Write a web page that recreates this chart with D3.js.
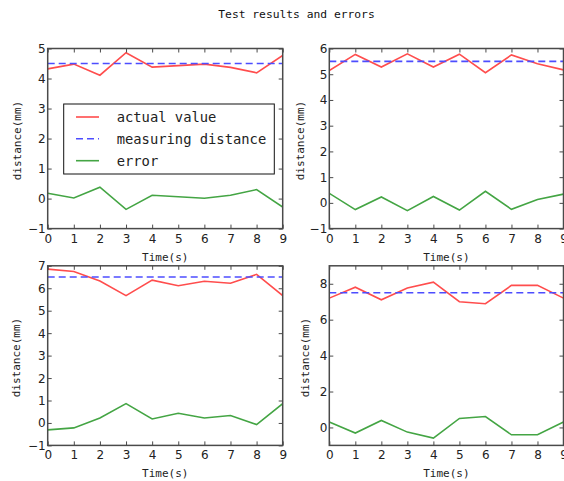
<!DOCTYPE html>
<html><head><meta charset="utf-8">
<script src="https://cdn.jsdelivr.net/npm/d3@7"></script>
<style>body{margin:0;background:#fff}svg{display:block}</style>
</head><body>
<svg id="c" width="564" height="481"></svg>
<script>
const times = [0,1,2,3,4,5,6,7,8,9];
const actual1 = [4.32,4.48,4.11,4.86,4.38,4.43,4.48,4.37,4.19,4.77];
const error1  = [0.18,0.02,0.38,-0.36,0.11,0.06,0.01,0.11,0.30,-0.28];
const actual2 = [5.14,5.77,5.28,5.79,5.28,5.78,5.06,5.75,5.41,5.17];
const error2  = [0.37,-0.26,0.23,-0.30,0.25,-0.28,0.45,-0.25,0.13,0.34];
const actual3 = [6.85,6.75,6.32,5.67,6.36,6.11,6.31,6.22,6.62,5.67];
const error3  = [-0.31,-0.22,0.22,0.86,0.18,0.43,0.22,0.33,-0.07,0.86];
const actual4 = [7.20,7.81,7.11,7.76,8.09,7.00,6.89,7.91,7.91,7.20];
const error4  = [0.30,-0.31,0.39,-0.26,-0.59,0.50,0.61,-0.41,-0.41,0.30];
const measured = [4.5, 5.5, 6.5, 7.5];
const yDomains = [[-1,5],[-1,6],[-1,7],[-1,9]];
const yTicks = [[-1,0,1,2,3,4,5],[-1,0,1,2,3,4,5,6],[-1,0,1,2,3,4,5,6,7],[0,2,4,6,8]];
const seriesNames = ["actual value","measuring distance","error"];
const title = "Test results and errors";
const xLabel = "Time(s)";
const yLabel = "distance(mm)";

const actuals = [actual1,actual2,actual3,actual4];
const errors = [error1,error2,error3,error4];

const layout = [
  {x0:47.7, x1:282.7, y0:48.5, y1:228.6, lab:30},
  {x0:329.3, x1:563.5, y0:48.5, y1:228.6, lab:29},
  {x0:47.7, x1:282.7, y0:265.8, y1:445.4, lab:31},
  {x0:329.3, x1:563.5, y0:265.8, y1:445.4, lab:24}
];
const RED="#ff4d4d", BLUE="#4d4dff", GREEN="#44a544", SPINE="#4a4a4a";
const svg = d3.select("#c");
const tickFont = "DejaVu Sans, sans-serif";
const monoFont = "DejaVu Sans Mono, monospace";

svg.append("text").attr("x",296.5).attr("y",14).attr("text-anchor","middle")
  .attr("dominant-baseline","central").attr("font-family",monoFont).attr("font-size",11.3)
  .attr("fill","#111").text(title);

layout.forEach((L,i)=>{
  const x = d3.scaleLinear().domain([0,9]).range([L.x0,L.x1]);
  const y = d3.scaleLinear().domain(yDomains[i]).range([L.y1,L.y0]);
  const g = svg.append("g");
  const cid = "clip"+i;
  svg.append("clipPath").attr("id",cid).append("rect")
    .attr("x",L.x0).attr("y",L.y0).attr("width",L.x1-L.x0).attr("height",L.y1-L.y0);
  const line = d3.line().x((d,j)=>x(times[j])).y(d=>y(d));
  const pg = g.append("g").attr("clip-path",`url(#${cid})`);
  pg.append("path").attr("d",line(actuals[i])).attr("fill","none").attr("stroke",RED).attr("stroke-width",1.6);
  pg.append("path").attr("d",line(times.map(()=>measured[i]))).attr("fill","none").attr("stroke",BLUE)
    .attr("stroke-width",1.6).attr("stroke-dasharray","7,4");
  pg.append("path").attr("d",line(errors[i])).attr("fill","none").attr("stroke",GREEN).attr("stroke-width",1.6);

  // axes with inward ticks
  const ax = (gen, tx, ty) => {
    const a = g.append("g").attr("transform",`translate(${tx},${ty})`).call(gen);
    a.select(".domain").remove();
    a.selectAll("line").attr("stroke",SPINE).attr("stroke-width",1);
    a.selectAll("text").attr("font-family",tickFont).attr("font-size",12).attr("fill","#222");
    return a;
  };
  const yfmt = d => d < 0 ? "\u2212"+Math.abs(d) : String(d);
  const b = ax(d3.axisBottom(x).tickValues(times).tickSizeInner(-4).tickSizeOuter(0).tickPadding(0).tickFormat(d=>d), 0, L.y1);
  b.selectAll("text").attr("dy",null).attr("y",10).attr("dominant-baseline","central");
  ax(d3.axisTop(x).tickValues(times).tickSizeInner(-4).tickSizeOuter(0).tickFormat(""), 0, L.y0);
  const l = ax(d3.axisLeft(y).tickValues(yTicks[i]).tickSizeInner(-4).tickSizeOuter(0).tickFormat(yfmt), L.x0, 0);
  l.selectAll("text").attr("x",-2).attr("dy",null).attr("dominant-baseline","central");
  ax(d3.axisRight(y).tickValues(yTicks[i]).tickSizeInner(-4).tickSizeOuter(0).tickFormat(""), L.x1, 0);

  g.append("rect").attr("x",L.x0).attr("y",L.y0).attr("width",L.x1-L.x0).attr("height",L.y1-L.y0)
    .attr("fill","none").attr("stroke",SPINE).attr("stroke-width",1.5);

  g.append("text").attr("x",(L.x0+L.x1)/2).attr("y",L.y1+28.5).attr("text-anchor","middle")
    .attr("dominant-baseline","central").attr("font-family",monoFont).attr("font-size",11)
    .attr("fill","#222").text(xLabel);
  const cy=(L.y0+L.y1)/2+2, cx=L.x0-L.lab;
  g.append("text").attr("transform",`translate(${cx},${cy}) rotate(-90)`).attr("text-anchor","middle")
    .attr("dominant-baseline","central").attr("font-family",monoFont).attr("font-size",11)
    .attr("fill","#222").text(yLabel);

  if(i===0){
    const lg = g.append("g");
    lg.append("rect").attr("x",63.7).attr("y",104).attr("width",210.6).attr("height",70)
      .attr("fill","#fff").attr("stroke","#111").attr("stroke-width",1);
    const rows=[117,138.7,160.7], cols=[RED,BLUE,GREEN];
    seriesNames.forEach((n,k)=>{
      lg.append("line").attr("x1",76).attr("x2",99).attr("y1",rows[k]).attr("y2",rows[k])
        .attr("stroke",cols[k]).attr("stroke-width",1.6).attr("stroke-dasharray",k===1?"7,4":null);
      lg.append("text").attr("x",116.7).attr("y",rows[k]).attr("dominant-baseline","central")
        .attr("font-family",monoFont).attr("font-size",13.8).attr("fill","#222").text(n);
    });
  }
});
</script>
</body></html>
